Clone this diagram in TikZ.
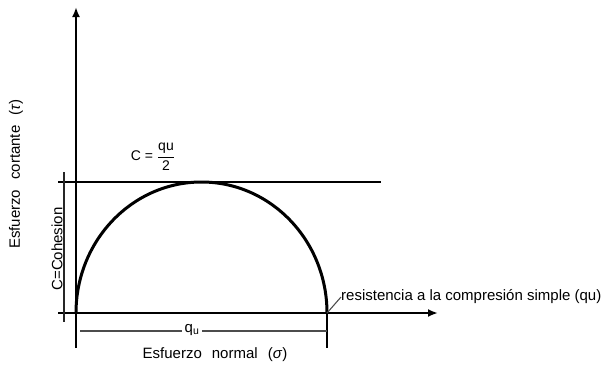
\documentclass[tikz,border=0pt]{standalone}
\usepackage{fontspec}
\setmainfont{Liberation Sans}
\usetikzlibrary{arrows.meta}
\begin{document}
\begin{tikzpicture}[x=1pt,y=-1pt,
  axisline/.style={line width=2.8pt,black},
  thinline/.style={line width=1.1pt,black!70},
  lbl/.style={font=\fontsize{15}{17}\selectfont,inner sep=0pt},
  tip/.style={-{Latex[length=10pt,width=8pt]}}]
\useasboundingbox (0,0) rectangle (609,370);
% key points
\coordinate (ytop) at (76,7);
\coordinate (ybot) at (76,348);
\coordinate (xl) at (58,313);
\coordinate (xr) at (438,313);
\coordinate (tl) at (58,182);
\coordinate (tr) at (381,182);
\coordinate (o) at (76,313);
\coordinate (qr) at (327,313);
\coordinate (qrb) at (327,348);
\coordinate (dl) at (80,331);
\coordinate (dr) at (327,331);
\coordinate (cl1) at (64,172);
\coordinate (cl2) at (64,322);
% axes
\draw[axisline,tip] (ybot) -- (ytop);
\draw[axisline,tip] (xl) -- (xr);
\draw[axisline] (tl) -- (tr);
% Mohr circle
\draw[line width=3pt] (o) arc[start angle=180,end angle=0,x radius=125.5pt,y radius=131pt];
% right tick
\draw[line width=1.6pt] (qr) -- (qrb);
% cohesion line
\draw[thinline,black!85] (cl1) -- (cl2);
% dimension line
\draw[thinline] (dl) -- (dr);
\node[lbl,fill=white,inner xsep=3pt] (qu) at (192,330) {q\textsubscript{u}};
% labels
\node[lbl,rotate=90] (ylab) at (16,174) {Esfuerzo\hspace{10pt}cortante\hspace{10pt}(\textit{τ})};
\node[lbl,rotate=90] (coh) at (57,249) {C=Cohesion};
\node[lbl] (xlab) at (215,355) {Esfuerzo\hspace{10pt}normal\hspace{10pt}(\textit{σ})};
\node[lbl,anchor=west] (res) at (341,297) {resistencia a la compresión simple (qu)};
\draw[thinline] (qr) -- (res.west);
\node[font=\fontsize{14}{16}\selectfont,inner sep=0pt] (cfrac) at (153,157) {C = $\displaystyle\frac{\textrm{qu}}{\textrm{2}}$};
\end{tikzpicture}
\end{document}
